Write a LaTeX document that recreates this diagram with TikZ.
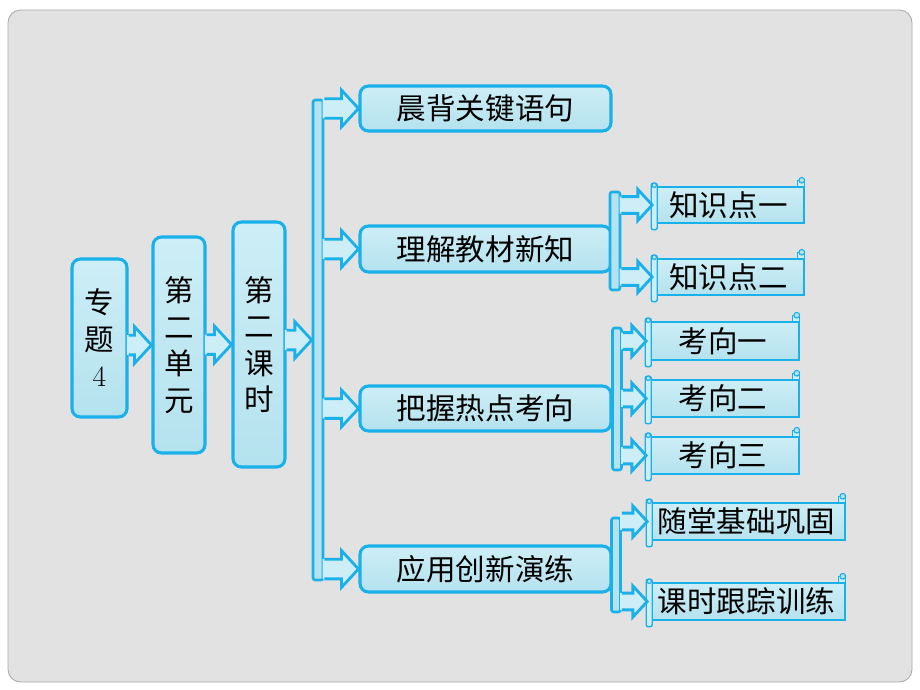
\documentclass[tikz,border=0pt]{standalone}
\usepackage{fontspec}
\newfontfamily\cjk{Noto Sans CJK SC}
\usetikzlibrary{calc}
\definecolor{panelgray}{RGB}{226,226,226}
\definecolor{paneledge}{RGB}{170,170,170}
\definecolor{dropfill}{RGB}{180,226,238}
\definecolor{droplight}{RGB}{205,238,246}
\definecolor{dropline}{RGB}{26,176,234}
\tikzset{
  boxsize/.style 2 args={minimum width=#1*0.025cm, minimum height=#2*0.025cm},
  cjktext/.style={font=\cjk\fontsize{21}{26}\selectfont, text=black},
  mainbox/.style={cjktext, draw=dropline, line width=2.2pt, rounded corners=6pt,
    top color=droplight, bottom color=dropfill, inner sep=0pt},
  vbox/.style={mainbox, align=center},
  barbox/.style={draw=dropline, line width=1.8pt, fill=dropfill, inner sep=0pt,
    rounded corners=1.5pt},
  scrollbox/.style={cjktext, draw=dropline, line width=1.1pt,
    top color=droplight, bottom color=dropfill, inner sep=0pt},
  arrowfill/.style={fill=droplight},
  arrowline/.style={draw=dropline, line width=2pt, line join=miter},
}
\newcommand{\blockarrow}[3][1]{%
  \fill[arrowfill] let \p1=(#2), \p2=(#3) in
    (\x1-1.2pt,\y2+#1*7pt) -- (\x2-#1*12pt,\y2+#1*7pt) -- (\x2-#1*12pt,\y2+#1*13pt)
    -- (\x2,\y2) -- (\x2-#1*12pt,\y2-#1*13pt) -- (\x2-#1*12pt,\y2-#1*7pt)
    -- (\x1-1.2pt,\y2-#1*7pt) -- cycle;
  \draw[arrowline] let \p1=(#2), \p2=(#3) in
    (\x1,\y2+#1*7pt) -- (\x2-#1*12pt,\y2+#1*7pt) -- (\x2-#1*12pt,\y2+#1*13pt)
    -- (\x2,\y2) -- (\x2-#1*12pt,\y2-#1*13pt) -- (\x2-#1*12pt,\y2-#1*7pt)
    -- (\x1,\y2-#1*7pt);}
\newcommand{\scrollends}[1]{%
  \draw[draw=dropline, line width=1pt, fill=droplight, rounded corners=1.5pt]
    ($(#1.north west)+(-1,-3)$) rectangle ($(#1.south west)+(5,6)$);
  \draw[draw=dropline, line width=0.8pt, fill=dropfill]
    ($(#1.north west)+(2,-1)$) circle (1.6pt);
  \draw[draw=dropline, line width=1pt, fill=droplight]
    ($(#1.north east)+(-7,0)$) -- ++(0,-6) -- ++(7,0) -- ++(0,6) -- cycle;
  \draw[draw=dropline, line width=0.8pt, fill=dropfill]
    ($(#1.north east)+(-3,-6)$) circle (2pt);}
\begin{document}
\begin{tikzpicture}[x=0.025cm, y=-0.025cm]
    \useasboundingbox (0,0) rectangle (920,690);
    \fill[white] (0,0) rectangle (920,690);
    \draw[fill=panelgray, draw=paneledge, line width=0.6pt, rounded corners=9pt]
        (8,10) rectangle (912,682);

    \node[vbox, boxsize={55}{158}] (zt) at (99.5,338) {专\\题\\{\rmfamily 4}};
    \node[vbox, boxsize={52}{216}] (dy) at (179,345) {第\\二\\单\\元};
    \node[vbox, boxsize={52}{245}] (ks) at (259,344.5) {第\\二\\课\\时};

    \node[mainbox, boxsize={251}{45}] (m1) at (485.5,108.5) {晨背关键语句};
    \node[mainbox, boxsize={251}{46}] (m2) at (485.5,249) {理解教材新知};
    \node[mainbox, boxsize={251}{45}] (m3) at (485.5,408.5) {把握热点考向};
    \node[mainbox, boxsize={251}{46}] (m4) at (485.5,569) {应用创新演练};

    \node[scrollbox, boxsize={151}{36}] (s21) at (728.5,205) {知识点一};
    \node[scrollbox, boxsize={151}{36}] (s22) at (728.5,277) {知识点二};
    \node[scrollbox, boxsize={152}{38}] (s31) at (723,341) {考向一};
    \node[scrollbox, boxsize={152}{37}] (s32) at (723,398.5) {考向二};
    \node[scrollbox, boxsize={152}{37}] (s33) at (723,455.5) {考向三};
    \node[scrollbox, boxsize={197}{37}] (s41) at (746.5,521.5) {随堂基础巩固};
    \node[scrollbox, boxsize={197}{37}] (s42) at (746.5,601.5) {课时跟踪训练};
    \foreach \s in {s21,s22,s31,s32,s33,s41,s42}
        \scrollends{\s};

    \node[barbox, boxsize={10}{480}] (bar) at (318,340) {};
    \node[barbox, boxsize={10}{98}] (b2) at (615,241) {};
    \node[barbox, boxsize={9}{142}] (b3) at (617,399) {};
    \node[barbox, boxsize={9}{94}] (b4) at (616,565) {};

    \blockarrow{zt.east}{dy.west}
    \blockarrow{dy.east}{ks.west}
    \blockarrow{ks.east}{bar.west}
    \foreach \m in {m1,m2,m3,m4}
        \blockarrow{bar.east}{\m.west};
    \foreach \s in {s21,s22}
        \blockarrow[0.85]{b2.east}{\s.west};
    \foreach \s in {s31,s32,s33}
        \blockarrow[0.85]{b3.east}{\s.west};
    \foreach \s in {s41,s42}
        \blockarrow[0.85]{b4.east}{\s.west};
\end{tikzpicture}
\end{document}
